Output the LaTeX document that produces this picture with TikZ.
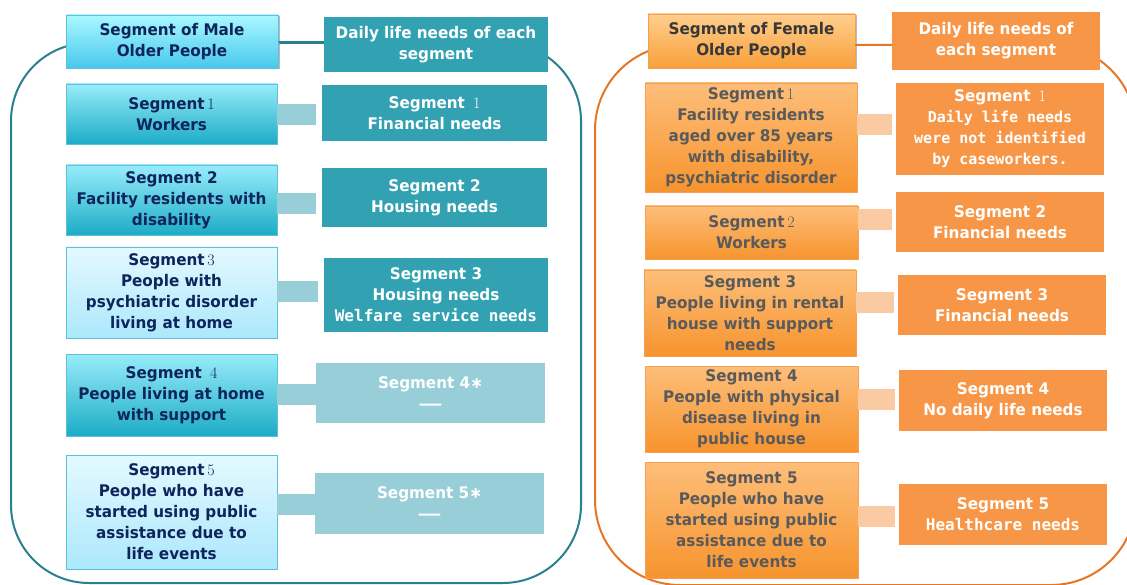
\documentclass[tikz,border=0pt]{standalone}
\usepackage{fontspec}
\setsansfont{DejaVu Sans}[FakeStretch=0.95]
\setmonofont{DejaVu Sans Mono}
\usetikzlibrary{shadows}
% colours of the male side
\definecolor{maleline}{RGB}{42,128,142}
\definecolor{maleedge}{RGB}{95,192,218}
\definecolor{maledark}{RGB}{50,162,178}
\definecolor{malelight}{RGB}{152,206,216}
\definecolor{malenavy}{RGB}{14,36,92}
\definecolor{maleheadtop}{RGB}{170,248,255}
\definecolor{maleheadbot}{RGB}{72,200,236}
\definecolor{malesegtop}{RGB}{152,236,250}
\definecolor{malesegbot}{RGB}{28,172,198}
\definecolor{malepaletop}{RGB}{228,249,255}
\definecolor{malepalebot}{RGB}{172,232,252}
% colours of the female side
\definecolor{femline}{RGB}{230,118,36}
\definecolor{femedge}{RGB}{244,160,84}
\definecolor{femdark}{RGB}{247,150,70}
\definecolor{femlight}{RGB}{250,202,162}
\definecolor{femgray}{RGB}{90,90,90}
\definecolor{femheadtop}{RGB}{255,206,142}
\definecolor{femheadbot}{RGB}{248,160,58}
\definecolor{femsegtop}{RGB}{253,190,122}
\definecolor{femsegbot}{RGB}{247,148,46}
\newcommand{\sdig}[1]{{\rmfamily\mdseries #1}}
\newcommand{\mono}[1]{{\ttfamily #1}}
\newcommand{\smono}[1]{{\ttfamily\fontsize{15}{20}\selectfont #1}}
\newcommand{\nodash}{\scalebox{1.6}[1]{—}}

\begin{document}
\begin{tikzpicture}[x=1pt, y=-1pt,
		font=\fontsize{16}{21}\selectfont\sffamily\bfseries,
		seg/.style={align=center, inner sep=2pt, line width=0.8pt},
		mhead/.style={seg, draw=maleedge, top color=maleheadtop, bottom color=maleheadbot, text=malenavy,
			drop shadow={shadow xshift=1.5pt, shadow yshift=-1.5pt, opacity=0.55}},
		mseg/.style={seg, draw=maleedge, top color=malesegtop, bottom color=malesegbot, text=malenavy},
		mpale/.style={seg, draw=maleedge, top color=malepaletop, bottom color=malepalebot, text=malenavy},
		mneed/.style={seg, fill=maledark, text=white},
		mnone/.style={seg, fill=malelight, text=white},
		mbar/.style={malelight, line width=21pt},
		fhead/.style={seg, draw=femedge, top color=femheadtop, bottom color=femheadbot, text=black!78,
			drop shadow={shadow xshift=1.5pt, shadow yshift=-1.5pt, opacity=0.55}},
		fseg/.style={seg, draw=femedge, top color=femsegtop, bottom color=femsegbot, text=femgray},
		fneed/.style={seg, fill=femdark, text=white},
		fbar/.style={femlight, line width=21pt, shorten >=4pt}]
	\useasboundingbox (0,0) rectangle (1127,585);
	% Rahmen
	\draw[maleline, line width=2pt, rounded corners=78pt] (11,43) rectangle (581,583);
	\draw[femline, line width=2pt, rounded corners=85pt] (595,45) rectangle (1136,585);
	% male: headers
	\node[mhead, minimum width=212pt, minimum height=53pt] (mh) at (172,41.5) {Segment of Male\\Older People};
	\node[mneed, minimum width=224pt, minimum height=55pt] (mn) at (436,44.5) {Daily life needs of each\\segment};
	\draw[maleline, line width=1.6pt] (mh.east) -- (mh.east -| mn.west);
	% male: segments
	\node[mseg, minimum width=211pt, minimum height=60pt] (ml1) at (171.5,114) {Segment\,\sdig{1}\\Workers};
	\node[mneed, minimum width=225pt, minimum height=56pt] (mr1) at (434.5,113) {Segment\enspace\sdig{1}\\Financial needs};
	\node[mseg, minimum width=211pt, minimum height=70pt] (ml2) at (171.5,200) {Segment 2\\Facility residents with\\disability};
	\node[mneed, minimum width=225pt, minimum height=59pt] (mr2) at (434.5,197.5) {Segment 2\\Housing needs};
	\node[mpale, minimum width=211pt, minimum height=91pt] (ml3) at (171.5,292.5) {Segment\,\sdig{3}\\People with\\psychiatric disorder\\living at home};
	\node[mneed, minimum width=224pt, minimum height=74pt] (mr3) at (436,295) {Segment 3\\Housing needs\\\mono{Welfare service needs}};
	\node[mseg, minimum width=211pt, minimum height=82pt] (ml4) at (171.5,395) {Segment\enspace\sdig{4}\\People living at home\\with support};
	\node[mnone, minimum width=229pt, minimum height=60pt] (mr4) at (430.5,393) {Segment 4∗\\\nodash};
	\node[mpale, minimum width=211pt, minimum height=114pt] (ml5) at (171.5,512) {Segment\,\sdig{5}\\People who have\\started using public\\assistance due to\\life events};
	\node[mnone, minimum width=229pt, minimum height=61pt] (mr5) at (429.5,503.5) {Segment 5∗\\\nodash};
	% male: bars
	\draw[mbar, shorten >=6pt] (ml1.east |- 0,114.5) -- (mr1.west |- 0,114.5);
	\draw[mbar, shorten >=6pt] (ml2.east |- 0,203.5) -- (mr2.west |- 0,203.5);
	\draw[mbar, shorten >=6pt] (ml3.east |- 0,291.5) -- (mr3.west |- 0,291.5);
	\draw[mbar] (ml4.east |- 0,394.5) -- (mr4.west |- 0,394.5);
	\draw[mbar] (ml5.east |- 0,504.5) -- (mr5.west |- 0,504.5);
	% female: headers
	\node[fhead, minimum width=207pt, minimum height=54pt] (fh) at (751.5,41) {Segment of Female\\Older People};
	\node[fneed, minimum width=208pt, minimum height=58pt] (fn) at (996,41) {Daily life needs of\\each segment};
	\draw[femline, line width=1.6pt] (fh.east |- 0,45) -- (fn.west |- 0,45);
	% female: segments
	\node[fseg, minimum width=212pt, minimum height=109pt] (fl1) at (751,137.5) {Segment\,\sdig{1}\\Facility residents\\aged over 85 years\\with disability,\\psychiatric disorder};
	\node[fneed, minimum width=208pt, minimum height=92pt] (fr1) at (1000,129) {Segment\enspace\sdig{1}\\\smono{Daily life needs}\\\smono{were not identified}\\\smono{by caseworkers.}};
	\node[fseg, minimum width=213pt, minimum height=53pt] (fl2) at (751.5,232.5) {Segment\,\sdig{2}\\Workers};
	\node[fneed, minimum width=208pt, minimum height=60pt] (fr2) at (1000,222) {Segment 2\\Financial needs};
	\node[fseg, minimum width=212pt, minimum height=86pt] (fl3) at (750,313) {Segment 3\\People living in rental\\house with support\\needs};
	\node[fneed, minimum width=208pt, minimum height=60pt] (fr3) at (1002,305) {Segment 3\\Financial needs};
	\node[fseg, minimum width=213pt, minimum height=86pt] (fl4) at (751.5,409) {Segment 4\\People with physical\\disease living in\\public house};
	\node[fneed, minimum width=208pt, minimum height=61pt] (fr4) at (1003,400.5) {Segment 4\\No daily life needs};
	\node[fseg, minimum width=213pt, minimum height=116pt] (fl5) at (751.5,520) {Segment 5\\People who have\\started using public\\assistance due to\\life events};
	\node[fneed, minimum width=208pt, minimum height=61pt] (fr5) at (1003,514.5) {Segment 5\\\mono{Healthcare needs}};
	% female: bars
	\draw[fbar] (fl1.east |- 0,124.5) -- (fr1.west |- 0,124.5);
	\draw[fbar] (fl2.east |- 0,219.5) -- (fr2.west |- 0,219.5);
	\draw[fbar] (fl3.east |- 0,302.5) -- (fr3.west |- 0,302.5);
	\draw[fbar] (fl4.east |- 0,399.5) -- (fr4.west |- 0,399.5);
	\draw[fbar] (fl5.east |- 0,516.5) -- (fr5.west |- 0,516.5);
\end{tikzpicture}
\end{document}
